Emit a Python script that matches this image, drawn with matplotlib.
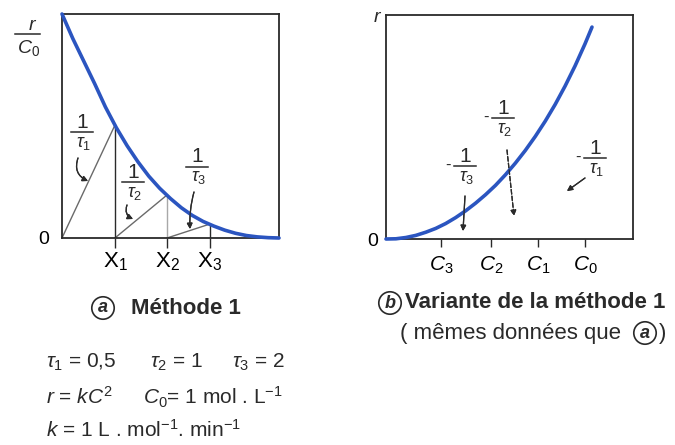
import matplotlib.pyplot as plt
from matplotlib.lines import Line2D

plt.rcParams['font.family'] = 'Liberation Sans'
plt.rcParams['mathtext.fontset'] = 'custom'
plt.rcParams['mathtext.rm'] = 'Liberation Sans'
plt.rcParams['mathtext.it'] = 'Liberation Sans:italic'
plt.rcParams['mathtext.bf'] = 'Liberation Sans:bold'

# (a) method 1 : r/C0 against conversion X
x_conv = [0.00, 0.05, 0.10, 0.15, 0.20, 0.25, 0.30, 0.35, 0.40, 0.45, 0.50,
          0.55, 0.60, 0.65, 0.70, 0.75, 0.80, 0.85, 0.90, 0.95, 1.00]
r_left = [1.000, 0.890, 0.790, 0.690, 0.585, 0.493, 0.412, 0.340, 0.276, 0.222, 0.176,
          0.135, 0.101, 0.074, 0.053, 0.035, 0.021, 0.011, 0.005, 0.0015, 0.000]
x_stage = [0.244, 0.484, 0.682]
r_stage = [0.504, 0.192, 0.0625]
x_labels = [r'$\mathrm{X}_1$', r'$\mathrm{X}_2$', r'$\mathrm{X}_3$']

# (b) variant : r against C
c_conc = [0.00, 0.05, 0.10, 0.15, 0.20, 0.25, 0.30, 0.35, 0.40, 0.45, 0.50,
          0.55, 0.60, 0.65, 0.70, 0.75, 0.80, 0.85, 0.90, 0.95, 1.00, 1.035]
r_right = [0.000, 0.001, 0.007, 0.017, 0.032, 0.050, 0.073, 0.101, 0.133, 0.169, 0.209,
           0.253, 0.303, 0.358, 0.418, 0.484, 0.556, 0.635, 0.722, 0.817, 0.921, 1.000]
c_ticks = [0.276, 0.528, 0.764, 1.0]
c_labels = [r'$C_3$', r'$C_2$', r'$C_1$', r'$C_0$']

W, H = 675, 445
BLUE = '#2b55c0'
INK = '#2a2a2a'
GREY = '#6a6a6a'

fig = plt.figure(figsize=(W / 100, H / 100), dpi=100)


def fxy(px, py):
    # pixel position (from top-left) -> figure fraction
    return px / W, 1 - py / H


def box(x0, y0, x1, y1):
    return [x0 / W, 1 - y1 / H, (x1 - x0) / W, (y1 - y0) / H]


def frame(ax):
    for s in ax.spines.values():
        s.set_color(INK)
        s.set_linewidth(1.3)


def text(px, py, s, **kw):
    x, y = fxy(px, py)
    kw.setdefault('ha', 'center')
    kw.setdefault('va', 'center')
    kw.setdefault('color', INK)
    return fig.text(x, y, s, **kw)


def hbar(px0, px1, py):
    x0, y = fxy(px0, py)
    x1, _ = fxy(px1, py)
    fig.add_artist(Line2D([x0, x1], [y, y], color=INK, lw=1.1))


def frac(px, py, sub, minus=False):
    text(px, py - 10, '1', fontsize=15)
    hbar(px - 11, px + 11, py)
    text(px + 2, py + 11, r'$\tau_%s$' % sub, fontsize=13)
    if minus:
        text(px - 17, py - 1, '-', fontsize=12)


def arrow(p0, p1, rad=0.0, ls='-'):
    fig.add_artist(plt.annotate(
        '', xy=fxy(*p1), xytext=fxy(*p0),
        xycoords='figure fraction', textcoords='figure fraction',
        arrowprops=dict(arrowstyle='-|>', color=INK, lw=0.9, ls=ls,
                        mutation_scale=8, shrinkA=0, shrinkB=0,
                        connectionstyle='arc3,rad=%s' % rad)))


# ----- (a) -----
ax1 = fig.add_axes(box(62, 14, 279, 238))
ax1.set_xlim(0, 1)
ax1.set_ylim(0, 1)
frame(ax1)

starts = [0.0] + x_stage[:-1]
for x0, x1, r1 in zip(starts, x_stage, r_stage):
    ax1.plot([x0, x1], [0, r1], color=GREY, lw=1.0)
for x1, r1, c in zip(x_stage, r_stage, [INK, '#a8a8a8', INK]):
    ax1.plot([x1, x1], [0, r1], color=c, lw=1.0)
ax1.plot(x_conv, r_left, color=BLUE, lw=2.6, solid_capstyle='round',
         solid_joinstyle='round', zorder=5, clip_on=False)

ax1.set_xticks(x_stage, x_labels, fontsize=16)
ax1.set_yticks([0], ['0'], fontsize=14)
ax1.tick_params(axis='x', length=7, width=1.0, color=INK, pad=2)
ax1.tick_params(axis='y', length=0, pad=9)

# r / C0 on the y axis
text(33, 25, r'$r$', fontsize=14)
hbar(15, 40, 34)
text(29, 48, r'$C_0$', fontsize=14)

frac(82, 132, '1')
frac(133, 182, '2')
frac(197, 167, '3')
arrow((78, 158), (88, 181), rad=0.45)
arrow((127, 205), (133, 219), rad=0.45)
arrow((194, 192), (190, 229), rad=0.08)

# ----- (b) -----
ax2 = fig.add_axes(box(386, 15, 633, 239))
ax2.set_xlim(0, 1.241)
ax2.set_ylim(0, 1.057)
frame(ax2)
ax2.plot(c_conc, r_right, color=BLUE, lw=2.6, solid_capstyle='round',
         solid_joinstyle='round', zorder=5, clip_on=False)

ax2.set_xticks(c_ticks, c_labels, fontsize=15)
ax2.set_yticks([0], ['0'], fontsize=14)
ax2.tick_params(axis='x', length=6, width=1.0, color=INK, pad=5)
ax2.tick_params(axis='y', length=0, pad=6)

text(378, 17, r'$r$', fontsize=14)

frac(465, 166, '3', minus=True)
frac(503, 118, '2', minus=True)
frac(595, 158, '1', minus=True)
arrow((465, 196), (463, 231))
arrow((507, 150), (514, 216), ls='--')
arrow((585, 178), (567, 191))

# ----- captions -----
circ = dict(boxstyle='circle,pad=0.15', fc='white', ec=INK, lw=1.2)
text(103, 308, 'a', fontsize=13, style='italic', fontweight='bold', bbox=circ)
text(131, 308, 'Méthode 1', fontsize=16, fontweight='bold', ha='left')
text(390, 303, 'b', fontsize=13, style='italic', fontweight='bold', bbox=circ)
text(405, 303, 'Variante de la méthode 1', fontsize=16, fontweight='bold', ha='left')
text(400, 333, '( mêmes données que', fontsize=16, ha='left')
text(645, 333, 'a', fontsize=13, style='italic', fontweight='bold', bbox=circ)
text(659, 333, ')', fontsize=16, ha='left')

text(46, 362, r'$\tau_1$ = 0,5', fontsize=15, ha='left')
text(150, 362, r'$\tau_2$ = 1', fontsize=15, ha='left')
text(232, 362, r'$\tau_3$ = 2', fontsize=15, ha='left')
text(46, 397, r'$r$ = $kC^2$', fontsize=15, ha='left')
text(143, 397, r'$C_0$= 1 mol . L$^{-1}$', fontsize=15, ha='left')
text(46, 430, r'$k$ = 1 L . mol$^{-1}$. min$^{-1}$', fontsize=15, ha='left')

fig.savefig('out.png', dpi=100)
